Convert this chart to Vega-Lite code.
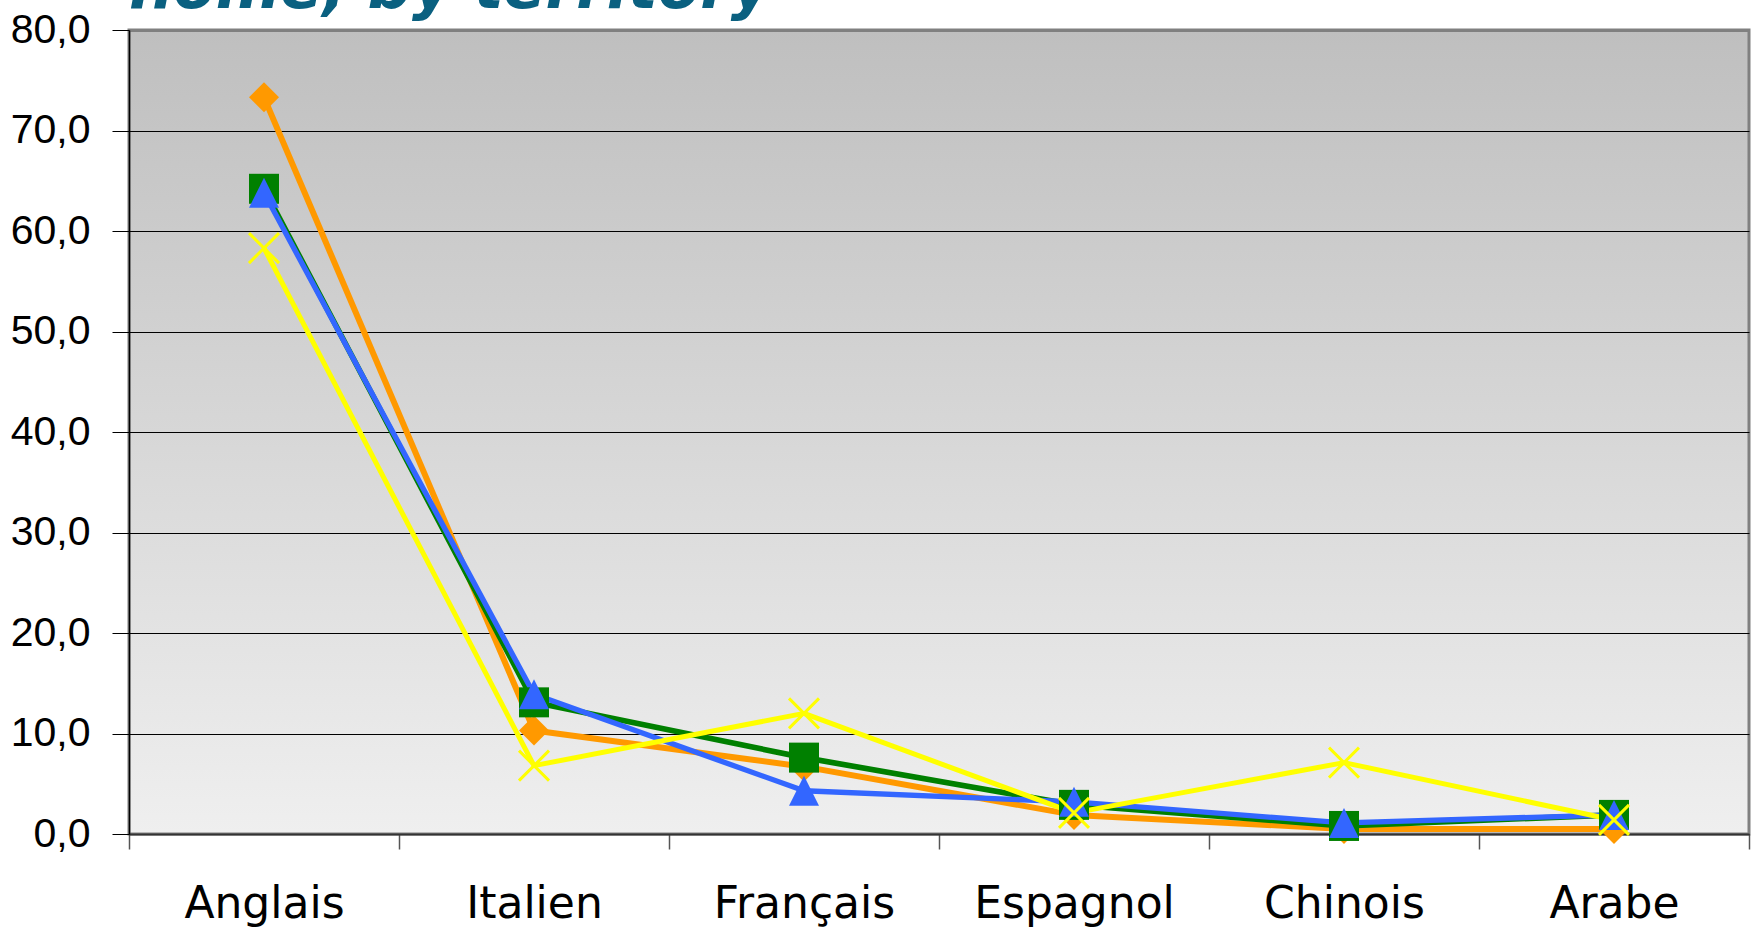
{
  "$schema": "https://vega.github.io/schema/vega-lite/v6.json",
  "autosize": "none",
  "width": 1620,
  "height": 804,
  "padding": {"left": 129, "top": 30, "right": 9, "bottom": 93},
  "background": "white",
  "title": {
    "text": "home, by territory",
    "anchor": "start",
    "frame": "group",
    "orient": "top",
    "baseline": "alphabetic",
    "offset": -61,
    "font": "DejaVu Sans",
    "fontSize": 62,
    "fontWeight": "bold",
    "fontStyle": "italic",
    "color": "#0a6080"
  },
  "config": {
    "view": {
      "fill": {"gradient": "linear", "x1": 0, "y1": 0, "x2": 0, "y2": 1,
        "stops": [{"offset": 0, "color": "#bfbfbf"}, {"offset": 1, "color": "#efefef"}]},
      "stroke": "#808080",
      "strokeWidth": 3
    }
  },
  "data": {
    "values": [
      {"serie": "Série 1", "langue": "Anglais", "valeur": 73.3},
      {"serie": "Série 1", "langue": "Italien", "valeur": 10.3},
      {"serie": "Série 1", "langue": "Français", "valeur": 6.7},
      {"serie": "Série 1", "langue": "Espagnol", "valeur": 1.9},
      {"serie": "Série 1", "langue": "Chinois", "valeur": 0.5},
      {"serie": "Série 1", "langue": "Arabe", "valeur": 0.5},
      {"serie": "Série 2", "langue": "Anglais", "valeur": 64.2},
      {"serie": "Série 2", "langue": "Italien", "valeur": 13.1},
      {"serie": "Série 2", "langue": "Français", "valeur": 7.6},
      {"serie": "Série 2", "langue": "Espagnol", "valeur": 2.9},
      {"serie": "Série 2", "langue": "Chinois", "valeur": 0.8},
      {"serie": "Série 2", "langue": "Arabe", "valeur": 1.9},
      {"serie": "Série 3", "langue": "Anglais", "valeur": 63.8},
      {"serie": "Série 3", "langue": "Italien", "valeur": 13.9},
      {"serie": "Série 3", "langue": "Français", "valeur": 4.3},
      {"serie": "Série 3", "langue": "Espagnol", "valeur": 3.2},
      {"serie": "Série 3", "langue": "Chinois", "valeur": 1.1},
      {"serie": "Série 3", "langue": "Arabe", "valeur": 1.9},
      {"serie": "Série 4", "langue": "Anglais", "valeur": 58.3},
      {"serie": "Série 4", "langue": "Italien", "valeur": 6.8},
      {"serie": "Série 4", "langue": "Français", "valeur": 12.0},
      {"serie": "Série 4", "langue": "Espagnol", "valeur": 2.1},
      {"serie": "Série 4", "langue": "Chinois", "valeur": 7.1},
      {"serie": "Série 4", "langue": "Arabe", "valeur": 1.4}
    ]
  },
  "encoding": {
    "x": {
      "field": "langue",
      "type": "nominal",
      "sort": ["Anglais", "Italien", "Français", "Espagnol", "Chinois", "Arabe"],
      "scale": {"type": "band", "paddingInner": 0, "paddingOuter": 0},
      "axis": {
        "title": null,
        "labelAngle": 0,
        "labelFont": "DejaVu Sans",
        "labelFontSize": 44,
        "labelColor": "#000000",
        "labelPadding": 33,
        "labelBaseline": "top",
        "labelLimit": 0,
        "tickBand": "extent",
        "tickSize": 15,
        "tickColor": "#555555",
        "tickWidth": 1.5,
        "domainColor": "#333333",
        "domainWidth": 2,
        "grid": false
      }
    },
    "y": {
      "field": "valeur",
      "type": "quantitative",
      "scale": {"domain": [0, 80], "nice": false},
      "axis": {
        "title": null,
        "values": [0, 10, 20, 30, 40, 50, 60, 70, 80],
        "format": ".1f",
        "labelExpr": "replace(datum.label, '.', ',')",
        "labelFont": "Liberation Sans",
        "labelFontSize": 41,
        "labelColor": "#000000",
        "labelPadding": 22,
        "labelLimit": 0,
        "tickSize": 17,
        "tickColor": "#000000",
        "tickWidth": 1,
        "domainColor": "#000000",
        "domainWidth": 1.5,
        "grid": true,
        "gridColor": {"condition": {"test": "datum.value === 80", "value": "#808080"}, "value": "#000000"},
        "gridWidth": {"condition": {"test": "datum.value === 80", "value": 3}, "value": 1},
        "gridOpacity": 1
      }
    }
  },
  "layer": [
    {
      "mark": {"type": "line", "strokeJoin": "round"},
      "encoding": {
        "color": {
          "field": "serie",
          "type": "nominal",
          "scale": {"domain": ["Série 1", "Série 2", "Série 3", "Série 4"], "range": ["#ff9900", "#008000", "#3366ff", "#ffff00"]},
          "legend": null
        },
        "strokeWidth": {
          "field": "serie",
          "type": "nominal",
          "scale": {"domain": ["Série 1", "Série 2", "Série 3", "Série 4"], "range": [6, 5, 5.5, 6]},
          "legend": null
        }
      }
    },
    {
      "transform": [{"filter": "datum.serie !== 'Série 4'"}],
      "mark": {"type": "point", "filled": true, "size": 900, "opacity": 1},
      "encoding": {
        "color": {
          "field": "serie",
          "type": "nominal",
          "scale": {"domain": ["Série 1", "Série 2", "Série 3", "Série 4"], "range": ["#ff9900", "#008000", "#3366ff", "#ffff00"]},
          "legend": null
        },
        "shape": {
          "field": "serie",
          "type": "nominal",
          "scale": {"domain": ["Série 1", "Série 2", "Série 3"], "range": ["diamond", "square", "M0,-1L1,1L-1,1Z"]},
          "legend": null
        }
      }
    },
    {
      "transform": [{"filter": "datum.serie === 'Série 4'"}],
      "mark": {"type": "point", "filled": false, "size": 900, "shape": "M-1,-1L1,1M-1,1L1,-1", "stroke": "#ffff00", "strokeWidth": 3, "opacity": 1}
    }
  ]
}
